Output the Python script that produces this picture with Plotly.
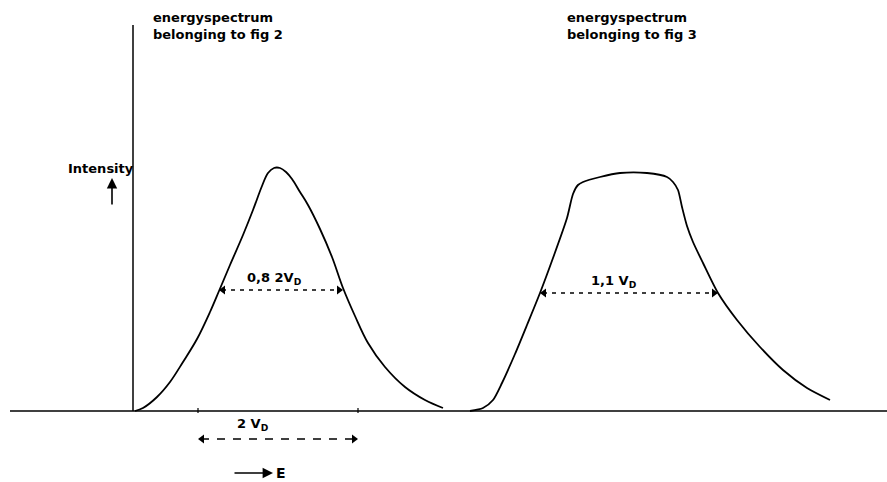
import plotly.graph_objects as go

# Energy axis (drawing units) and intensity values
spec2_energy = [135, 143, 157, 170, 183, 197, 210, 219, 230, 243, 253, 262, 268, 274, 280, 286, 292, 300, 308, 320, 332, 343, 355, 368, 385, 405, 425, 443]
spec2_intensity = [0, 3, 14, 29, 49, 72, 99, 120, 146, 176, 201, 225, 238, 243, 243, 239, 232, 219, 206, 182, 154, 123, 95, 68, 44, 24, 11, 3]

spec3_energy = [470, 483, 493, 502, 515, 527, 540, 553, 567, 573, 578, 583, 600, 620, 647, 667, 673, 678, 682, 687, 693, 703, 718, 737, 760, 783, 807, 830]
spec3_intensity = [0, 3, 11, 28, 57, 86, 118, 153, 193, 217, 226, 229, 234, 238, 238, 234, 229, 221, 204, 185, 169, 148, 118, 91, 64, 41, 23, 11]

# Half-width markers
fwhm2 = {"label": "0,8 2V<sub>D</sub>", "left": 219, "right": 343, "level": 121}
fwhm3 = {"label": "1,1 V<sub>D</sub>", "left": 540, "right": 718, "level": 118}
scale_2vd = {"label": "2 V<sub>D</sub>", "left": 198, "right": 358}
titles = ["energyspectrum<br>belonging to fig 2", "energyspectrum<br>belonging to fig 3"]
title_pos = [151, 565]

FONT = "DejaVu Sans"
fig = go.Figure()

# baseline (energy axis) and intensity axis
fig.add_trace(go.Scatter(x=[10, 887], y=[0, 0], mode="lines",
                         line=dict(color="black", width=1.4), hoverinfo="skip"))
fig.add_trace(go.Scatter(x=[133, 133], y=[0, 386], mode="lines",
                         line=dict(color="black", width=1.5), hoverinfo="skip"))
# tick marks on baseline
for tx in [scale_2vd["left"], scale_2vd["right"]]:
    fig.add_trace(go.Scatter(x=[tx, tx], y=[-2, 3], mode="lines",
                             line=dict(color="black", width=1.2), hoverinfo="skip"))

# spectra
fig.add_trace(go.Scatter(x=spec2_energy, y=spec2_intensity, mode="lines",
                         line=dict(color="black", width=1.8, shape="spline", smoothing=1.0)))
fig.add_trace(go.Scatter(x=spec3_energy, y=spec3_intensity, mode="lines",
                         line=dict(color="black", width=1.8, shape="spline", smoothing=0.7)))


def dashed_double_arrow(x0, x1, y, dash="4px,5px", width=1.3):
    fig.add_trace(go.Scatter(x=[x0 + 3, x1 - 3], y=[y, y], mode="lines",
                             line=dict(color="black", width=width, dash=dash),
                             hoverinfo="skip"))
    fig.add_trace(go.Scatter(x=[x0 + 4, x1 - 4], y=[y, y], mode="markers",
                             marker=dict(symbol=["triangle-left", "triangle-right"],
                                         size=8, color="black"),
                             hoverinfo="skip"))


dashed_double_arrow(fwhm2["left"], fwhm2["right"], fwhm2["level"])
dashed_double_arrow(fwhm3["left"], fwhm3["right"], fwhm3["level"])
dashed_double_arrow(scale_2vd["left"], scale_2vd["right"], -28, dash="8px,8px")

TF = dict(family=FONT, size=13, color="black", weight="bold")
ann = []
for t, xp in zip(titles, title_pos):
    ann.append(dict(x=xp, y=385, text=t, showarrow=False, xanchor="left", yanchor="middle",
                    align="left", font=TF))
ann.append(dict(x=fwhm2["left"] + 55, y=fwhm2["level"] + 12, text=fwhm2["label"], showarrow=False,
                font=TF))
ann.append(dict(x=fwhm3["left"] + 74, y=fwhm3["level"] + 12, text=fwhm3["label"], showarrow=False,
                font=TF))
ann.append(dict(x=253, y=-13, text=scale_2vd["label"], showarrow=False, font=TF))
ann.append(dict(x=101, y=243, text="Intensity", showarrow=False, font=TF))
# Intensity arrow
ann.append(dict(x=112, y=233, ax=112, ay=205, xref="x", yref="y", axref="x", ayref="y",
                text="", showarrow=True, arrowhead=2, arrowsize=1.3, arrowwidth=1.6,
                arrowcolor="black"))
# Energy arrow
ann.append(dict(x=273, y=-62, ax=233, ay=-62, xref="x", yref="y", axref="x", ayref="y",
                text="", showarrow=True, arrowhead=2, arrowsize=1.3, arrowwidth=1.6,
                arrowcolor="black"))
ann.append(dict(x=274, y=-62, text="E", showarrow=False, xanchor="left",
                font=dict(family=FONT, size=14, color="black", weight="bold")))

fig.update_layout(
    width=887, height=482,
    margin=dict(l=0, r=0, t=0, b=0),
    paper_bgcolor="white", plot_bgcolor="white",
    showlegend=False,
    xaxis=dict(range=[0, 887], visible=False, fixedrange=True),
    yaxis=dict(range=[-71, 411], visible=False, fixedrange=True),
    annotations=ann,
)

fig.write_html("out.html", config={"displayModeBar": False},
               post_script="document.body.style.margin='0';document.body.style.overflow='hidden';")
